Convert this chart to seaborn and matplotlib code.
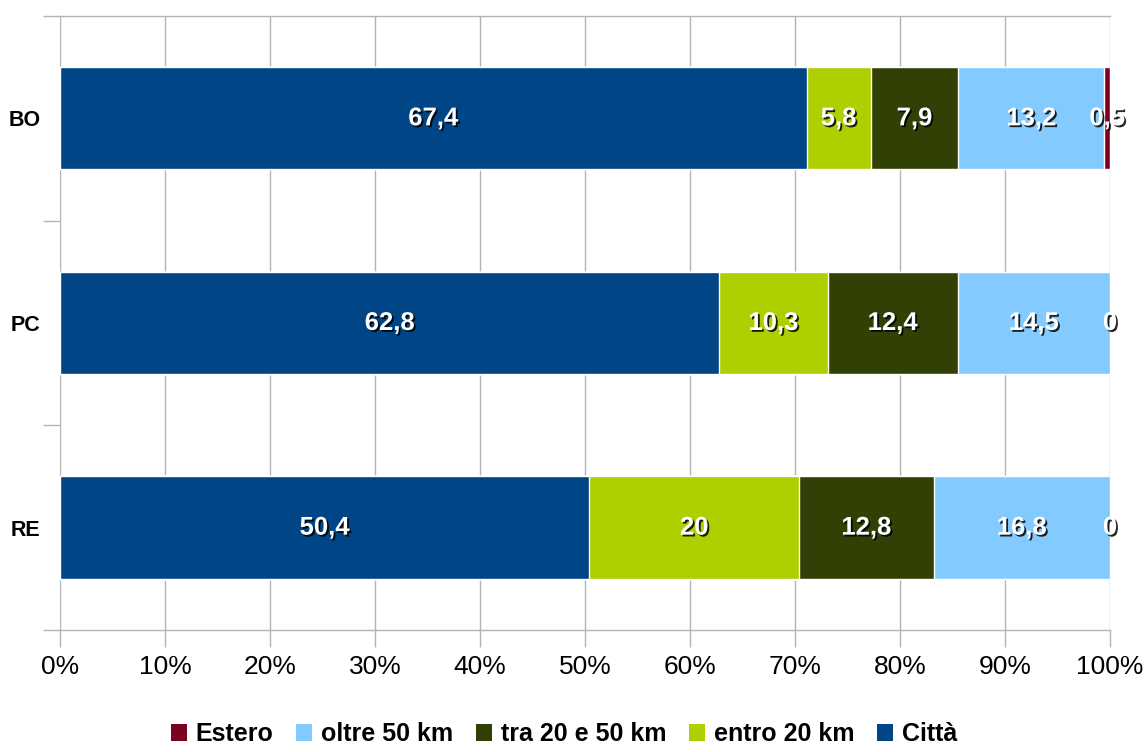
import numpy as np
import matplotlib
matplotlib.use("Agg")
import matplotlib.pyplot as plt
import matplotlib.patheffects as pe
from matplotlib.patches import Patch
from matplotlib.ticker import FixedLocator, PercentFormatter
import seaborn as sns

categories = ["BO", "PC", "RE"]
series_names = ["Città", "entro 20 km", "tra 20 e 50 km", "oltre 50 km", "Estero"]
citta = [67.4, 62.8, 50.4]
entro20 = [5.8, 10.3, 20.0]
tra20_50 = [7.9, 12.4, 12.8]
oltre50 = [13.2, 14.5, 16.8]
estero = [0.5, 0.0, 0.0]
colors = ["#004586", "#aecf00", "#314004", "#83caff", "#7e0021"]

sns.set_theme(style="white")
plt.rcParams["font.family"] = ["Liberation Sans", "DejaVu Sans"]
plt.rcParams["text.color"] = "black"

values = np.array([citta, entro20, tra20_50, oltre50, estero], dtype=float)
totals = values.sum(axis=0)
pct = values / totals * 100
cum = np.cumsum(pct, axis=0)

fig = plt.figure(figsize=(11.44, 7.52), dpi=100)
ax = fig.add_axes([60/1144, (752-630)/752, (1110-60)/1144, (630-16)/752])

# draw widest cumulative bars first, narrower on top
for i in range(len(series_names) - 1, -1, -1):
    sns.barplot(x=cum[i], y=categories, orient="h", color=colors[i],
                saturation=1, width=0.5, ax=ax, zorder=3)

ax.set_xlim(0, 100)
ax.set_ylim(2.5, -0.5)
ax.set_xticks(np.arange(0, 101, 10))
ax.xaxis.set_major_formatter(PercentFormatter(decimals=0))
ax.grid(axis="x", color="#b3b3b3", linewidth=1, zorder=0)
ax.set_axisbelow(True)
ax.set_xlabel("")
ax.set_ylabel("")

for s in ["left", "right"]:
    ax.spines[s].set_visible(False)
for s in ["top", "bottom"]:
    ax.spines[s].set_visible(True)
    ax.spines[s].set_color("#b3b3b3")
    ax.spines[s].set_linewidth(1)

ax.tick_params(axis="x", which="major", length=12, width=1, color="#b3b3b3",
               direction="out", bottom=True, labelsize=19, pad=6, labelcolor="black")
ax.tick_params(axis="y", which="major", length=0, labelsize=15.5, pad=14, labelcolor="black")
ax.yaxis.set_minor_locator(FixedLocator([-0.5, 0.5, 1.5, 2.5]))
ax.tick_params(axis="y", which="minor", length=12, width=1, color="#b3b3b3",
               direction="out", left=True)
for lab in ax.get_yticklabels():
    lab.set_fontweight("bold")

shadow = [pe.withSimplePatchShadow(offset=(1.3, -1.3), shadow_rgbFace="black", alpha=0.85)]

def fmt(v):
    if abs(v - round(v)) < 1e-9:
        return f"{int(round(v))}"
    return f"{v:.1f}".replace(".", ",")

for i in range(len(series_names)):
    for j in range(len(categories)):
        start = cum[i][j] - pct[i][j]
        xc = start + pct[i][j] / 2
        ax.text(xc, j, fmt(values[i][j]), ha="center", va="center", color="white",
                fontsize=18.5, fontweight="bold", zorder=5, path_effects=shadow)

handles = [Patch(facecolor=colors[i], edgecolor="none", label=series_names[i])
           for i in range(len(series_names) - 1, -1, -1)]
fig.legend(handles=handles, loc="lower center", bbox_to_anchor=(0.493, -0.022), ncol=5,
           frameon=False, prop={"size": 18, "weight": "bold"}, labelcolor="black",
           handlelength=0.65, handleheight=0.65, handletextpad=0.35, columnspacing=0.9)

fig.savefig("out.png", dpi=100)
